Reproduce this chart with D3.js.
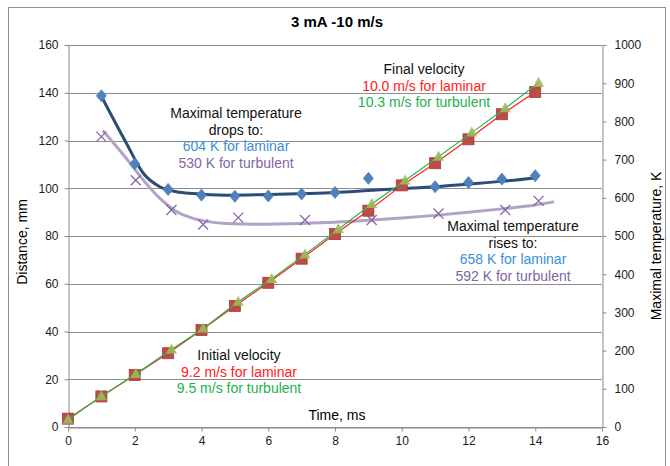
<!DOCTYPE html>
<html>
<head>
<meta charset="utf-8">
<script src="https://cdn.jsdelivr.net/npm/d3@7"></script>
<style>
  body { margin: 0; background: #fff; }
  text { font-family: "Liberation Sans", Arial, sans-serif; }
</style>
</head>
<body>
<div id="chart"></div>
<script>
var width = 670,
  height = 466;

// Distance vs time (mm), laminar and turbulent
const timeLaminar = [0, 1, 2, 3, 4, 5, 6, 7, 8, 9, 10, 11, 12, 13, 14];
const distLaminar = [3.5, 12.8, 21.8, 30.9, 40.6, 50.7, 60.4, 70.5, 80.8, 90.6, 101.2, 110.5, 120.5, 131, 140.3];
const timeTurbulent = [0, 1, 2.03, 3.1, 4.05, 5.1, 6.1, 7.1, 8.1, 9.1, 10.1, 11.1, 12.1, 13.1, 14.1];
const distTurbulent = [3.0, 12.9, 22.2, 32.5, 41.3, 52.5, 62, 72.3, 82.8, 93.4, 103.2, 113.2, 123.3, 133.5, 144.2];

// Maximal temperature (K)
const tempTimeLaminar = [1, 2, 3, 4, 5, 6, 7, 8, 9, 10, 11, 12, 13, 14];
const tempLaminar = [867, 689, 622, 607, 604, 605, 610, 614, 651, 634, 629, 640, 649, 658];
const tempTimeTurbulent = [1, 2.03, 3.1, 4.05, 5.1, 7.1, 9.1, 11.1, 13.1, 14.1];
const tempTurbulent = [760, 646, 568, 530, 548, 542, 542, 559, 568, 592];

// Trend lines
const trendTimeLaminar = [1, 1.75, 2.25, 2.75, 3.25, 3.75, 4.75, 5.75, 7, 8, 9, 10, 11, 12, 13, 14];
const trendLaminar = [866, 743, 665, 629, 616, 611, 607, 608, 611, 614, 619, 624, 629, 636, 643, 652];
const trendTimeTurbulent = [1.04, 1.75, 2.25, 2.75, 3.25, 3.75, 4.25, 4.75, 5.75, 7, 8, 9, 10, 11, 12, 13, 14, 14.56];
const trendTurbulent = [776, 703, 647, 599, 564, 546, 537, 533, 531, 533, 536, 541, 547, 554, 562, 571, 581, 590];

const xTicks = [0, 2, 4, 6, 8, 10, 12, 14, 16];
const yLeftTicks = [0, 20, 40, 60, 80, 100, 120, 140, 160];
const yRightTicks = [0, 100, 200, 300, 400, 500, 600, 700, 800, 900, 1000];

var svg = d3.select("#chart").append("svg")
  .attr("width", width)
  .attr("height", height);

// outer frame
svg.append("rect")
  .attr("x", 8.5).attr("y", 7.5)
  .attr("width", 657).attr("height", 470)
  .attr("fill", "none")
  .attr("stroke", "#8c8c8c");

var x = d3.scaleLinear().domain([0, 16]).range([68, 602]);
var yL = d3.scaleLinear().domain([0, 160]).range([427, 45]);
var yR = d3.scaleLinear().domain([0, 1000]).range([427, 45]);

// gridlines
svg.append("g")
  .selectAll("line")
  .data(yLeftTicks)
  .enter()
  .append("line")
  .attr("x1", x(0)).attr("x2", x(16))
  .attr("y1", d => Math.round(yL(d)) + 0.5)
  .attr("y2", d => Math.round(yL(d)) + 0.5)
  .attr("stroke", "#8c8c8c");

// axes
function styleAxis(g) {
  g.select(".domain").attr("stroke", "#8c8c8c");
  g.selectAll(".tick line").attr("stroke", "#8c8c8c");
  g.selectAll(".tick text")
    .attr("fill", "#1a1a1a")
    .style("font-size", "12px")
    .style("font-family", "Liberation Sans, Arial, sans-serif");
}

svg.append("g")
  .attr("transform", "translate(0," + (yL(0) + 0.5) + ")")
  .call(d3.axisBottom(x).tickValues(xTicks).tickSize(4).tickPadding(5).tickSizeOuter(0))
  .call(styleAxis);

svg.append("g")
  .attr("transform", "translate(" + (x(0) + 0.5) + ",0)")
  .call(d3.axisLeft(yL).tickValues(yLeftTicks).tickSize(4).tickPadding(6).tickSizeOuter(0))
  .call(styleAxis);

svg.append("g")
  .attr("transform", "translate(" + (x(16) + 0.5) + ",0)")
  .call(d3.axisRight(yR).tickValues(yRightTicks).tickFormat(d3.format("d"))
    .tickSize(4).tickPadding(8).tickSizeOuter(0))
  .call(styleAxis);

// titles
svg.append("text")
  .attr("x", 337).attr("y", 27)
  .attr("text-anchor", "middle")
  .style("font-size", "15px")
  .style("font-weight", "bold")
  .text("3 mA -10 m/s");

svg.append("text")
  .attr("transform", "translate(27,242) rotate(-90)")
  .attr("text-anchor", "middle")
  .style("font-size", "14px")
  .text("Distance, mm");

svg.append("text")
  .attr("transform", "translate(661,246) rotate(-90)")
  .attr("text-anchor", "middle")
  .style("font-size", "14px")
  .text("Maximal temperature, K");

svg.append("text")
  .attr("x", 337).attr("y", 420)
  .attr("text-anchor", "middle")
  .style("font-size", "14px")
  .text("Time, ms");

// temperature trend lines
var trendLine = d3.line().curve(d3.curveMonotoneX);

svg.append("path")
  .attr("d", trendLine(trendTimeTurbulent.map((t, i) => [x(t), yR(trendTurbulent[i])])))
  .attr("fill", "none")
  .attr("stroke", "#b3a2c7")
  .attr("stroke-width", 3);

svg.append("path")
  .attr("d", trendLine(trendTimeLaminar.map((t, i) => [x(t), yR(trendLaminar[i])])))
  .attr("fill", "none")
  .attr("stroke", "#2c4d75")
  .attr("stroke-width", 3);

// temperature markers
svg.append("g")
  .selectAll("path")
  .data(tempTimeTurbulent.map((t, i) => [t, tempTurbulent[i]]))
  .enter()
  .append("path")
  .attr("transform", d => "translate(" + x(d[0]) + "," + yR(d[1]) + ")")
  .attr("d", "M-5,-5L5,5M-5,5L5,-5")
  .attr("stroke", "#8064a2")
  .attr("stroke-width", 1.2);

svg.append("g")
  .selectAll("path")
  .data(tempTimeLaminar.map((t, i) => [t, tempLaminar[i]]))
  .enter()
  .append("path")
  .attr("transform", d => "translate(" + x(d[0]) + "," + yR(d[1]) + ")")
  .attr("d", "M0,-6L5,0L0,6L-5,0Z")
  .attr("fill", "#4f81bd")
  .attr("stroke", "#4a7ebb")
  .attr("stroke-width", 0.8);

// distance lines + markers
var line = d3.line();

svg.append("path")
  .attr("d", line(timeLaminar.map((t, i) => [x(t), yL(distLaminar[i])])))
  .attr("fill", "none")
  .attr("stroke", "#ff2020")
  .attr("stroke-width", 1.2);

svg.append("g")
  .selectAll("rect")
  .data(timeLaminar.map((t, i) => [t, distLaminar[i]]))
  .enter()
  .append("rect")
  .attr("x", d => x(d[0]) - 5.5)
  .attr("y", d => yL(d[1]) - 5.5)
  .attr("width", 11).attr("height", 11)
  .attr("fill", "#bf4b48")
  .attr("stroke", "#a23c3a")
  .attr("stroke-width", 0.8);

svg.append("path")
  .attr("d", line(timeTurbulent.map((t, i) => [x(t), yL(distTurbulent[i])])))
  .attr("fill", "none")
  .attr("stroke", "#29b45a")
  .attr("stroke-width", 1.2);

svg.append("g")
  .selectAll("path")
  .data(timeTurbulent.map((t, i) => [t, distTurbulent[i]]))
  .enter()
  .append("path")
  .attr("transform", d => "translate(" + x(d[0]) + "," + yL(d[1]) + ")")
  .attr("d", "M0,-6L5.5,4L-5.5,4Z")
  .attr("fill", "#9bbb59")
  .attr("fill-opacity", 0.9);

// annotations
function note(cx, cy, lines) {
  var g = svg.append("g");
  lines.forEach(function (l, i) {
    g.append("text")
      .attr("x", cx)
      .attr("y", cy + 16.5 * i)
      .attr("text-anchor", "middle")
      .style("font-size", "14px")
      .attr("fill", l[1])
      .text(l[0]);
  });
}

note(236, 118, [
  ["Maximal temperature", "#111"],
  ["drops to:", "#111"],
  ["604 K for laminar", "#3b8fd6"],
  ["530 K for turbulent", "#7f68a3"],
]);

note(424, 74, [
  ["Final velocity", "#111"],
  ["10.0 m/s for laminar", "#ff2020"],
  ["10.3 m/s for turbulent", "#22b14c"],
]);

note(513, 231, [
  ["Maximal temperature", "#111"],
  ["rises to:", "#111"],
  ["658 K for laminar", "#3b8fd6"],
  ["592 K for turbulent", "#7f68a3"],
]);

note(239, 360, [
  ["Initial velocity", "#111"],
  ["9.2 m/s for laminar", "#ff2020"],
  ["9.5 m/s for turbulent", "#22b14c"],
]);
</script>
</body>
</html>
